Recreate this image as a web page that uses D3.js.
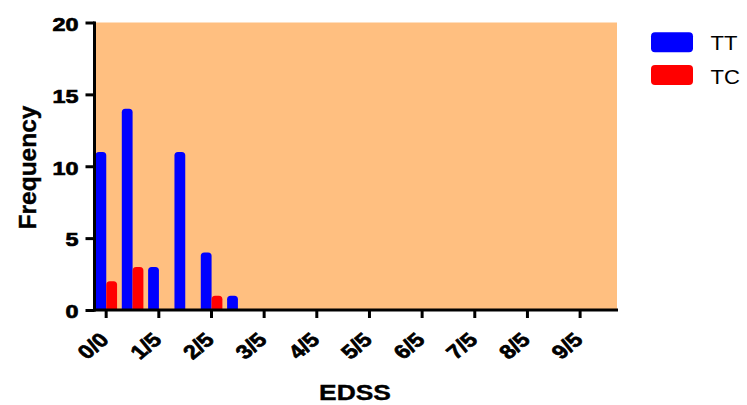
<!DOCTYPE html>
<html><head><meta charset="utf-8">
<script src="https://cdn.jsdelivr.net/npm/d3@7"></script>
<style>body{margin:0;background:#fff}svg{display:block}text{font-family:"Liberation Sans",Arial,sans-serif}</style>
</head><body><svg id="c" width="747" height="405"></svg>
<script>
const categories = ["0/0","1/0","1/5","2/0","2/5","3/0","3/5","4/0","4/5","5/0","5/5","6/0","6/5","7/0","7/5","8/0","8/5","9/0","9/5","10/0"];
const seriesNames = ["TT","TC"];
const ttValues = [11,14,3,11,4,1,0,0,0,0,0,0,0,0,0,0,0,0,0,0];
const tcValues = [2,3,0,0,1,0,0,0,0,0,0,0,0,0,0,0,0,0,0,0];
const xTickLabels = ["0/0","1/5","2/5","3/5","4/5","5/5","6/5","7/5","8/5","9/5"];
const yTicks = [0,5,10,15,20];
const colors = {TT:"#0000ff", TC:"#ff0000"};

const svg = d3.select("#c");
const L=94.5, R=617, T=22.5, B=310;
const x = d3.scaleBand().domain(categories).range([93, 93+26.33*20]).padding(0);
const x1 = d3.scaleBand().domain(seriesNames).range([x.bandwidth()/2-10.7, x.bandwidth()/2+10.9]).padding(0);
const y = d3.scaleLinear().domain([0,20]).range([B,T]);

svg.append("rect").attr("x",L).attr("y",T).attr("width",R-L).attr("height",B-T).attr("fill","#ffbf80");

function barPath(x0,w,yTop,yBot,r){
  r=Math.min(r,w/2,(yBot-yTop));
  return `M${x0},${yBot}V${yTop+r}Q${x0},${yTop} ${x0+r},${yTop}H${x0+w-r}Q${x0+w},${yTop} ${x0+w},${yTop+r}V${yBot}Z`;
}
const rows = categories.map((c,i)=>({c, TT:ttValues[i], TC:tcValues[i]}));
const g = svg.append("g");
rows.forEach(d=>{
  seriesNames.forEach(s=>{
    if(d[s]>0){
      g.append("path").attr("d",barPath(x(d.c)+x1(s), x1.bandwidth(), y(d[s]), y(0), 3.5)).attr("fill",colors[s]);
    }
  });
});

// axes
const yAxis = d3.axisLeft(y).tickValues(yTicks).tickSize(9).tickPadding(0);
const ya = svg.append("g").attr("transform",`translate(${L},0)`).call(yAxis);
ya.select(".domain").attr("stroke","#000").attr("stroke-width",3).attr("d",`M0,${B+1.5}V${T-1}`);
ya.selectAll(".tick line").attr("stroke","#000").attr("stroke-width",3);
ya.selectAll(".tick text").attr("font-size",18.7).attr("font-weight","bold").attr("fill","#000")
  .attr("stroke","#000").attr("stroke-width",0.7)
  .attr("x",0).attr("dy","0.42em").attr("text-anchor","end")
  .attr("transform","translate(-16,0) scale(1.25,1)");

const tickMap = {}; categories.forEach((c,i)=>{ if(i%2===0) tickMap[c]=xTickLabels[i/2]; });
const xAxis = d3.axisBottom(x).tickValues(categories.filter((c,i)=>i%2===0)).tickSize(8).tickFormat(c=>tickMap[c]);
const xa = svg.append("g").attr("transform",`translate(0,${B})`).call(xAxis);
xa.select(".domain").attr("stroke","#000").attr("stroke-width",3).attr("d",`M${L-1.5},0H${R+1}`);
xa.selectAll(".tick line").attr("stroke","#000").attr("stroke-width",3);
xa.selectAll(".tick text").attr("font-size",19.5).attr("font-weight","bold").attr("fill","#000")
  .attr("stroke","#000").attr("stroke-width",0.7)
  .attr("text-anchor","end").attr("dy",0).attr("y",0)
  .attr("transform","translate(4,31) scale(1.19,1) rotate(-45)");

svg.append("text").attr("transform","translate(355,400) scale(1.2,1)").attr("text-anchor","middle").attr("font-size",22).attr("font-weight","bold").attr("stroke","#000").attr("stroke-width",0.4).text("EDSS");
svg.append("text").attr("transform","translate(36,167.5) rotate(-90)").attr("text-anchor","middle").attr("font-size",24.5).attr("font-weight","bold").attr("stroke","#000").attr("stroke-width",0.4).text("Frequency");

// legend
seriesNames.forEach((s,i)=>{
  svg.append("rect").attr("x",651).attr("y",32.3+i*32.7).attr("width",42).attr("height",20).attr("rx",4).attr("fill",colors[s]);
  svg.append("text").attr("transform",`translate(710.5,${49.5+i*34}) scale(1.05,1)`).attr("font-size",21).attr("fill","#000").text(s);
});
</script></body></html>
